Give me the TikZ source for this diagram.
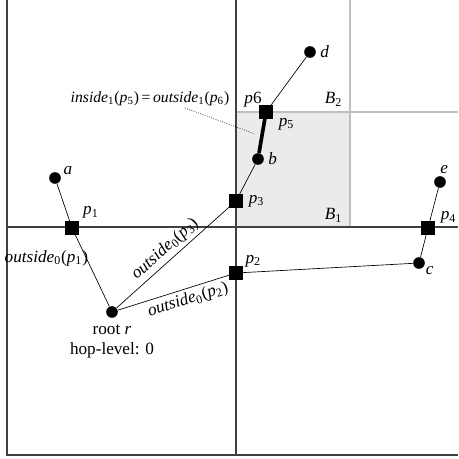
\documentclass[tikz,border=0pt]{standalone}
\usepackage{fontspec}
\setmainfont{Liberation Serif}
\usetikzlibrary{positioning, calc}
\newcommand{\pl}[1]{\textit{p}\textsubscript{#1}}
\newcommand{\outs}[2]{\textit{outside}\textsubscript{#1}(\pl{#2})}

\begin{document}
\begin{tikzpicture}[
    x=0.6pt, y=-0.6pt,
    every node/.style={font=\fontsize{10.3}{12}\selectfont},
    dot/.style={circle, fill=black, inner sep=0pt, minimum size=7pt},
    sq/.style={rectangle, fill=black, inner sep=0pt, minimum size=8pt},
    grid/.style={black!75, thick},
    lightgrid/.style={black!25, thick},
    edge/.style={black, thin},
]
\useasboundingbox (0,0) rectangle (458,459);
% shaded box between B1 and B2
\fill[black!8] (236,112) rectangle (350,227);
% the partition lines
\draw[lightgrid] (350,0) -- (350,227);
\draw[lightgrid] (236,112) -- (458,112);
\draw[grid] (7,0) -- (7,455) -- (458,455);
\draw[grid] (236,0) -- (236,455);
\draw[grid] (7,227) -- (458,227);
\node[anchor=base east] (B2) at (348,104) {\textit{B}\textsubscript{2}};
\node[anchor=base east] (B1) at (348,220) {\textit{B}\textsubscript{1}};
% tree nodes
\node[dot] (r) at (112,312) {};
\node[below=3pt of r, align=center, inner sep=1pt] (rlab) {root \textit{r}\\hop-level: 0};
\node[dot] (a) at (55,178) {};
\node[dot] (b) at (258,159) {};
\node[dot] (c) at (419,263) {};
\node[dot] (d) at (310,52) {};
\node[dot] (e) at (440,182) {};
\node[above right=-4pt and -1pt of a] {\textit{a}};
\node[right=-1pt of b] {\textit{b}};
\node[below right=-4pt and -2pt of c] {\textit{c}};
\node[right=-1pt of d] {\textit{d}};
\node[above right=-1pt and -6pt of e] {\textit{e}};
% crossing points
\node[sq] (p1) at (72,228) {};
\node[sq] (p2) at (236,273) {};
\node[sq] (p3) at (236,201) {};
\node[sq] (p5) at (266,112) {};
\node[sq] (p4) at (428,228) {};
\node[above right=-2pt and -1pt of p1] {\pl{1}};
\node[above right=-4pt and -2pt of p2] {\pl{2}};
\node[right=0pt of p3] {\pl{3}};
\node[above right=-5pt and 0pt of p4] {\pl{4}};
\node[below right=-4pt and 0pt of p5] {\pl{5}};
\node (p6lab) at (253,100) {\textit{p}6};
% edges
\draw[edge] (a) -- (p1) -- (r);
\draw[edge] (r) -- node[sloped, above, pos=0.5, inner sep=2pt]{\outs{0}{3}} (p3) -- (b);
\draw[line width=2.2pt] (b) -- (p5);
\draw[edge] (p5) -- (d);
\draw[edge] (r) -- node[sloped, below, pos=0.6, inner sep=2pt]{\outs{0}{2}} (p2) -- (c) -- (p4) -- (e);
\node[anchor=east, inner sep=1pt] (o1) at (90,258) {\outs{0}{1}};
% equality of the two boxes
\node[font=\fontsize{9.4}{11}\selectfont] (eq) at (150,99) {\textit{inside}\textsubscript{1}(\pl{5})\,=\,\outs{1}{6}};
\coordinate (eqend) at (255,134);
\draw[densely dotted] (185,108) -- (eqend);
\end{tikzpicture}
\end{document}
